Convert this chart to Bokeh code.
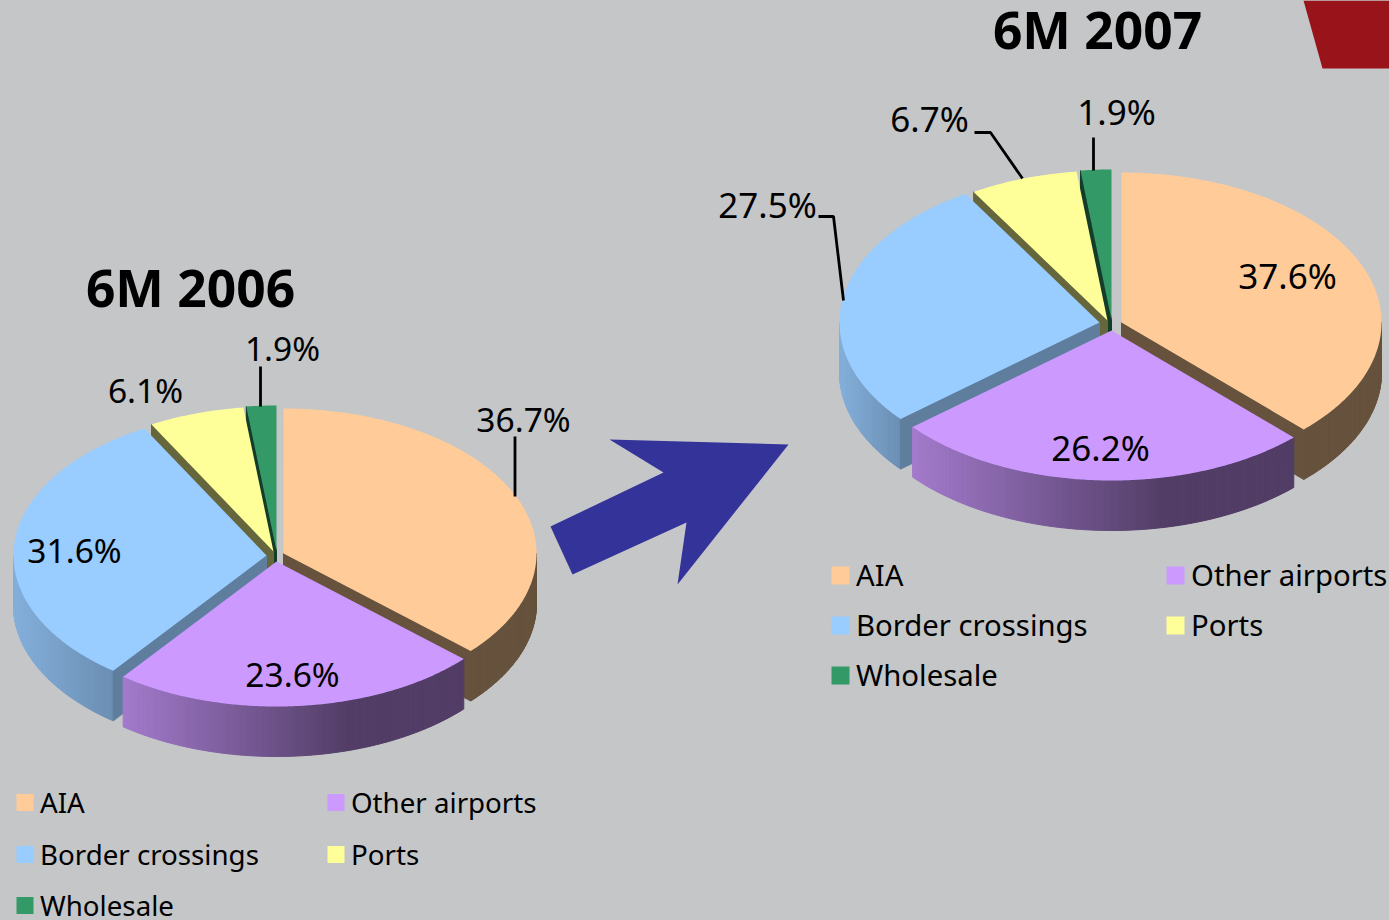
import math
from bokeh.plotting import figure
from bokeh.models import Range1d
from bokeh.core.properties import value
from bokeh.embed import file_html
from bokeh.resources import INLINE

# ---- data ----
categories = ["AIA", "Other airports", "Border crossings", "Ports", "Wholesale"]
share_2006 = [36.7, 23.6, 31.6, 6.1, 1.9]
share_2007 = [37.6, 26.2, 27.5, 6.7, 1.9]
titles = ["6M 2006", "6M 2007"]
colors = ["#ffcc99", "#cc99ff", "#99ccff", "#ffff99", "#339966"]

# ---- layout ----
W, H = 1389, 920
BG = "#c4c6c8"
FONT = "Noto Sans"
DEPTH = 50

# per-slice top-face centres (exploded pie), order as categories
pie_2006 = dict(rx=253, ry=145, centres=[(283, 553), (276, 561), (266, 555), (273, 551), (276, 550)])
pie_2007 = dict(rx=260, ry=150, centres=[(1121, 322), (1111, 330), (1099, 322), (1107, 320), (1111, 319)])

p = figure(width=W, height=H, output_backend="svg", toolbar_location=None,
           x_range=Range1d(0, W), y_range=Range1d(H, 0),
           min_border=0, outline_line_color=None,
           background_fill_color=BG, border_fill_color=BG,
           styles={"position": "absolute", "left": "0px", "top": "0px", "background-color": BG})
p.axis.visible = False
p.grid.visible = False


def mix(hex_color, f):
    r, g, b = (int(hex_color[i:i + 2], 16) for i in (1, 3, 5))
    return "#%02x%02x%02x" % (round(r * f), round(g * f), round(b * f))


def pt(cx, cy, rx, ry, deg):
    t = math.radians(deg)
    return cx + rx * math.sin(t), cy - ry * math.cos(t)


def shade(i, x, x0, x1):
    """Side-wall brightness for slice i at screen position x."""
    u = max(0.0, min(1.0, (x - x0) / (x1 - x0)))
    if i == 1:      # purple: gradient to dark
        return max(0.4, 0.8 - 0.4 * u / 0.66)
    if i == 2:      # blue: light to slightly darker
        return 0.86 - 0.16 * u
    return 0.4


def draw_pie(shares, pie):
    rx, ry = pie["rx"], pie["ry"]
    total = sum(shares)
    bounds = [0.0]
    for s in shares:
        bounds.append(bounds[-1] + s / total * 360)
    # painter's order: back to front
    for i in (4, 3, 0, 2, 1):
        a0, a1 = bounds[i], bounds[i + 1]
        cx, cy = pie["centres"][i]
        col = colors[i]
        # outer wall, only the part facing the viewer
        lo, hi = max(a0, 90), min(a1, 270)
        if hi > lo:
            n = max(2, int((hi - lo) * 1.5))
            xs0 = pt(cx, cy, rx, ry, lo)[0]
            xs1 = pt(cx, cy, rx, ry, hi)[0]
            left, right = min(xs0, xs1), max(xs0, xs1)
            xl, yl, cl = [], [], []
            for k in range(n):
                d0 = lo + (hi - lo) * k / n
                d1 = lo + (hi - lo) * (k + 1) / n
                x0, y0 = pt(cx, cy, rx, ry, d0)
                x1, y1 = pt(cx, cy, rx, ry, d1)
                xl.append([x0, x1, x1, x0])
                yl.append([y0, y1, y1 + DEPTH, y0 + DEPTH])
                cl.append(mix(col, shade(i, (x0 + x1) / 2, left, right)))
            p.patches(xl, yl, fill_color=cl, line_color=cl, line_width=1)
        # radial walls facing the viewer
        wall = {2: 0.62}.get(i, 0.4)
        for deg, visible in ((a0, math.sin(math.radians(a0)) < -1e-6),
                             (a1, math.sin(math.radians(a1)) > 1e-6)):
            if visible:
                ex, ey = pt(cx, cy, rx, ry, deg)
                p.patch([cx, ex, ex, cx], [cy, ey, ey + DEPTH, cy + DEPTH],
                        fill_color=mix(col, wall), line_color=mix(col, wall), line_width=1)
        # top face
        n = max(3, int(a1 - a0) * 2)
        arc = [pt(cx, cy, rx, ry, a0 + (a1 - a0) * k / n) for k in range(n + 1)]
        p.patch([cx] + [q[0] for q in arc], [cy] + [q[1] for q in arc],
                fill_color=col, line_color=None)


draw_pie(share_2006, pie_2006)
draw_pie(share_2007, pie_2007)

# red corner and arrow
p.patch([1303, 1322, 1389, 1389], [0, 68, 68, 0], fill_color="#99141a", line_color=None)
p.patch([609, 788, 677, 686, 572, 550, 663], [439, 444, 584, 522, 574, 526, 472],
        fill_color="#333399", line_color=None)

# leader lines
for xs, ys in [([260, 260], [366, 406]), ([514.5, 514.5], [436, 496]),
               ([818, 833, 843], [216, 216, 300]), ([974, 990, 1022], [132, 132, 178]),
               ([1093, 1093], [137, 170])]:
    p.line(xs, ys, line_color="black", line_width=2.8)


def label(x, y, t, size, align="center", bold=False):
    p.text([x], [y], text=[t], text_font=value(FONT), text_font_size=size,
            text_align=align, text_baseline="middle", text_color="black",
            text_font_style="bold" if bold else "normal")


# value labels: order follows categories
pos_2006 = [(523, 418), (292, 673), (74, 549), (145, 389), (282, 347)]
pos_2007 = [(1287, 275), (1100, 447), (767, 204), (929, 118), (1116, 111)]
for (x, y), s in zip(pos_2006, share_2006):
    label(x, y, f"{s}%", "33.5px")
for (x, y), s in zip(pos_2007, share_2007):
    label(x, y, f"{s}%", "35px")

label(190, 286, titles[0], "51.5px", bold=True)
label(1097, 28, titles[1], "51.5px", bold=True)

# legends
legend_order = [0, 1, 2, 3, 4]
leg_2006 = dict(cols=[16, 327], rows=[801, 853, 904], sq=17, gap=23.5, size="27.7px")
leg_2007 = dict(cols=[831, 1166], rows=[574, 624, 674], sq=18, gap=24.5, size="29.3px")
for leg in (leg_2006, leg_2007):
    for n, i in enumerate(legend_order):
        x = leg["cols"][n % 2]
        y = leg["rows"][n // 2]
        s = leg["sq"]
        p.patch([x, x + s, x + s, x], [y - s / 2 + 1, y - s / 2 + 1, y + s / 2 + 1, y + s / 2 + 1],
                fill_color=colors[i], line_color=None)
        label(x + leg["gap"], y, categories[i], leg["size"], align="left")

open("out.html", "w").write(file_html(p, INLINE))
